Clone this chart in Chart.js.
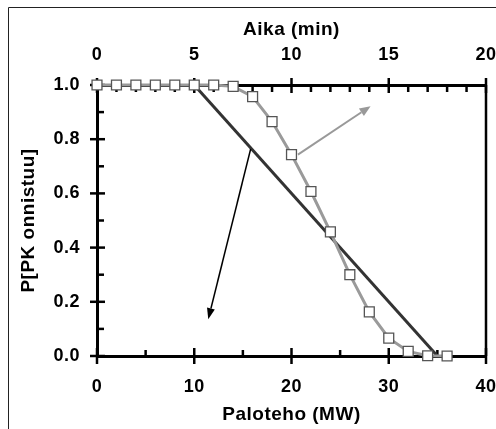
<!DOCTYPE html>
<html>
<head>
<meta charset="utf-8">
<script src="https://cdn.jsdelivr.net/npm/chart.js@4"></script>
<style>
  html, body { margin: 0; padding: 0; background: #fff; }
  #wrap { width: 496px; height: 429px; }
</style>
</head>
<body>
<div id="wrap"><canvas id="myChart" width="496" height="429"></canvas></div>
<script>
// Measured curve: P[PK onnistuu] vs fire power (MW)
const powerMW = [0, 2, 4, 6, 8, 10, 12, 14, 16, 18, 20, 22, 24, 26, 28, 30, 32, 34, 36];
const probSuccess = [1, 1, 1, 1, 1, 1, 1, 0.995, 0.957, 0.865, 0.743, 0.607, 0.458, 0.30, 0.163, 0.066, 0.017, 0.001, 0];

// Simplified linear model
const linePowerMW = [10, 35];
const lineProb = [1, 0];

// Tick labels
const powerTicks = [0, 10, 20, 30, 40];
const timeTicks = [0, 5, 10, 15, 20];
const probTicks = [0, 0.2, 0.4, 0.6, 0.8, 1.0];

// Arrows [fromX, fromY, toX, toY] in MW / probability
const grayArrow = [20.66, 0.743, 28.13, 0.922];
const blackArrow = [15.8, 0.764, 11.44, 0.136];

const FONT = '"Liberation Sans", Arial, sans-serif';

// slightly wider text, like the original's bold Arial
const spacing = {
    id: 'spacing',
    beforeDraw(chart) { chart.ctx.letterSpacing = '0.5px'; }
};

// Tick marks: major ticks cross the axis, minor ones sit inside
const tickMarks = {
    id: 'tickMarks',
    beforeDatasetsDraw(chart) {
        const ctx = chart.ctx;
        const { x, x2, y } = chart.scales;
        const area = chart.chartArea;
        ctx.save();
        ctx.strokeStyle = '#000';
        ctx.lineWidth = 2.5;
        ctx.lineCap = 'butt';
        const seg = (a, b, c, d) => { ctx.beginPath(); ctx.moveTo(a, b); ctx.lineTo(c, d); ctx.stroke(); };

        // right frame at 40 MW
        seg(x.getPixelForValue(40), y.getPixelForValue(1), x.getPixelForValue(40), y.getPixelForValue(0));

        // bottom axis: major every 10, minor every 5
        for (let v = 0; v <= 40; v += 5) {
            const px = x.getPixelForValue(v);
            if (v % 10 === 0) seg(px, area.bottom - 8, px, area.bottom + 8);
            else seg(px, area.bottom - 6, px, area.bottom);
        }
        // top axis: major every 5 min, minor every 1 min
        for (let v = 0; v <= 20; v += 1) {
            const px = x2.getPixelForValue(v);
            if (v % 5 === 0) seg(px, area.top - 7, px, area.top + 8);
            else seg(px, area.top, px, area.top + 7);
        }
        // left axis: major 0.2, minor 0.1
        for (let i = 0; i <= 10; i++) {
            const py = y.getPixelForValue(i / 10);
            if (i % 2 === 0) seg(area.left - 7, py, area.left + 8, py);
            else seg(area.left, py, area.left + 7, py);
        }
        ctx.restore();
    }
};

// Arrows and the outer frame
const extras = {
    id: 'extras',
    afterDatasetsDraw(chart) {
        const ctx = chart.ctx;
        const { x, y } = chart.scales;
        const drawArrow = (arr, color, width, headLen, headW) => {
            const x0 = x.getPixelForValue(arr[0]), y0 = y.getPixelForValue(arr[1]);
            const x1 = x.getPixelForValue(arr[2]), y1 = y.getPixelForValue(arr[3]);
            const ang = Math.atan2(y1 - y0, x1 - x0);
            const bx = x1 - headLen * Math.cos(ang), by = y1 - headLen * Math.sin(ang);
            ctx.save();
            ctx.strokeStyle = color;
            ctx.fillStyle = color;
            ctx.lineWidth = width;
            ctx.beginPath();
            ctx.moveTo(x0, y0);
            ctx.lineTo(bx, by);
            ctx.stroke();
            ctx.beginPath();
            ctx.moveTo(x1, y1);
            ctx.lineTo(bx + headW * Math.sin(ang), by - headW * Math.cos(ang));
            ctx.lineTo(bx - headW * Math.sin(ang), by + headW * Math.cos(ang));
            ctx.closePath();
            ctx.fill();
            ctx.restore();
        };
        drawArrow(grayArrow, '#999999', 2, 11, 4.5);
        drawArrow(blackArrow, '#000000', 1.5, 11, 4);

        ctx.save();
        ctx.strokeStyle = '#222';
        ctx.lineWidth = 1;
        ctx.beginPath();
        ctx.moveTo(8.5, 429);
        ctx.lineTo(8.5, 7.5);
        ctx.lineTo(496, 7.5);
        ctx.stroke();
        ctx.restore();
    }
};

const tickFont = { family: FONT, size: 18, weight: 'bold' };
const titleFont = { family: FONT, size: 19, weight: 'bold' };

// keep the plot box where the original has it
const fixHorizontal = (h) => (s) => { s.height = h; s.paddingLeft = 0; s.paddingRight = 0; };

new Chart(document.getElementById('myChart'), {
    type: 'line',
    data: {
        datasets: [
            {
                label: 'measured',
                data: powerMW.map((p, i) => ({ x: p, y: probSuccess[i] })),
                borderColor: '#9a9a9a',
                borderWidth: 3,
                pointStyle: 'rect',
                pointRadius: 7,
                pointBackgroundColor: '#ffffff',
                pointBorderColor: '#555555',
                pointBorderWidth: 1.3,
                tension: 0,
                clip: false
            },
            {
                label: 'linear',
                data: linePowerMW.map((p, i) => ({ x: p, y: lineProb[i] })),
                borderColor: '#333333',
                borderWidth: 3,
                pointRadius: 0,
                tension: 0,
                clip: false
            }
        ]
    },
    options: {
        responsive: false,
        animation: false,
        events: [],
        layout: { autoPadding: false, padding: { left: 0, right: 10, top: 0, bottom: 0 } },
        plugins: {
            legend: { display: false },
            tooltip: { enabled: false }
        },
        scales: {
            x: {
                type: 'linear',
                position: 'bottom',
                min: 0,
                max: 40,
                afterBuildTicks: (s) => { s.ticks = powerTicks.map(v => ({ value: v })); },
                ticks: { font: tickFont, color: '#000', padding: 20, maxRotation: 0 },
                grid: { display: false, drawTicks: false },
                border: { display: true, color: '#000', width: 3 },
                title: { display: true, text: 'Paloteho (MW)', font: titleFont, color: '#000', padding: { top: 0, bottom: 3 } },
                afterFit: fixHorizontal(73)
            },
            x2: {
                type: 'linear',
                position: 'top',
                min: 0,
                max: 20,
                afterBuildTicks: (s) => { s.ticks = timeTicks.map(v => ({ value: v })); },
                ticks: { font: tickFont, color: '#000', padding: 19, maxRotation: 0 },
                grid: { display: false, drawTicks: false },
                border: { display: true, color: '#000', width: 3 },
                title: { display: true, text: 'Aika (min)', font: titleFont, color: '#000', padding: { top: 18, bottom: 0 } },
                afterFit: fixHorizontal(85)
            },
            y: {
                type: 'linear',
                position: 'left',
                min: 0,
                max: 1,
                afterBuildTicks: (s) => { s.ticks = probTicks.map(v => ({ value: v })); },
                ticks: { font: tickFont, color: '#000', padding: 17, callback: (v) => v.toFixed(1) },
                grid: { display: false, drawTicks: false },
                border: { display: true, color: '#000', width: 3 },
                title: { display: true, text: 'P[PK onnistuu]', font: titleFont, color: '#000', padding: { top: 17, bottom: 0 } },
                afterFit: (s) => { s.width = 97; s.paddingTop = 0; s.paddingBottom = 0; }
            }
        }
    },
    plugins: [spacing, tickMarks, extras]
});
</script>
</body>
</html>
